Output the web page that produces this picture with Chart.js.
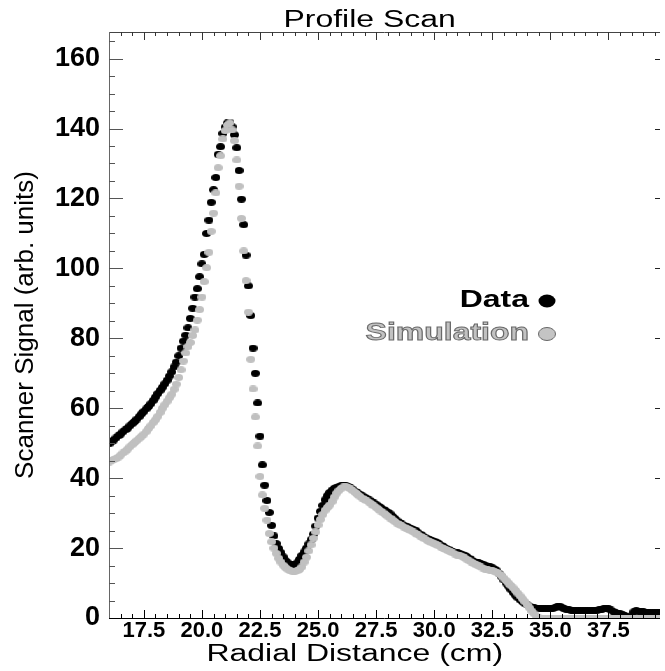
<!DOCTYPE html>
<html>
<head>
    <meta charset="utf-8">
    <title>Profile Scan</title>
    <script src="https://cdn.jsdelivr.net/npm/chart.js"></script>
    <style>
        html, body { margin: 0; padding: 0; background: #fff; }
    </style>
</head>
<body>
    <canvas id="scanChart" width="665" height="671"></canvas>

    <script>
        // radial positions of the scan (cm)
        const radialCm = [
            16.0, 16.1, 16.2, 16.3, 16.4, 16.5, 16.6, 16.7, 16.8, 16.9,
            17.0, 17.1, 17.2, 17.3, 17.4, 17.5, 17.6, 17.7, 17.8, 17.9,
            18.0, 18.1, 18.2, 18.3, 18.4, 18.5, 18.6, 18.7, 18.8, 18.9,
            19.0, 19.1, 19.2, 19.3, 19.4, 19.5, 19.6, 19.7, 19.8, 19.9,
            20.0, 20.1, 20.2, 20.3, 20.4, 20.5, 20.6, 20.7, 20.8, 20.9,
            21.0, 21.1, 21.2, 21.3, 21.4, 21.5, 21.6, 21.7, 21.8, 21.9,
            22.0, 22.1, 22.2, 22.3, 22.4, 22.5, 22.6, 22.7, 22.8, 22.9,
            23.0, 23.1, 23.2, 23.3, 23.4, 23.5, 23.6, 23.7, 23.8, 23.9,
            24.0, 24.1, 24.2, 24.3, 24.4, 24.5, 24.6, 24.7, 24.8, 24.9,
            25.0, 25.1, 25.2, 25.3, 25.4, 25.5, 25.6, 25.7, 25.8, 25.9,
            26.0, 26.1, 26.2, 26.3, 26.4, 26.5, 26.6, 26.7, 26.8, 26.9,
            27.0, 27.1, 27.2, 27.3, 27.4, 27.5, 27.6, 27.7, 27.8, 27.9,
            28.0, 28.1, 28.2, 28.3, 28.4, 28.5, 28.6, 28.7, 28.8, 28.9,
            29.0, 29.1, 29.2, 29.3, 29.4, 29.5, 29.6, 29.7, 29.8, 29.9,
            30.0, 30.1, 30.2, 30.3, 30.4, 30.5, 30.6, 30.7, 30.8, 30.9,
            31.0, 31.1, 31.2, 31.3, 31.4, 31.5, 31.6, 31.7, 31.8, 31.9,
            32.0, 32.1, 32.2, 32.3, 32.4, 32.5, 32.6, 32.7, 32.8, 32.9,
            33.0, 33.1, 33.2, 33.3, 33.4, 33.5, 33.6, 33.7, 33.8, 33.9,
            34.0, 34.1, 34.2, 34.3, 34.4, 34.5, 34.6, 34.7, 34.8, 34.9,
            35.0, 35.1, 35.2, 35.3, 35.4, 35.5, 35.6, 35.7, 35.8, 35.9,
            36.0, 36.1, 36.2, 36.3, 36.4, 36.5, 36.6, 36.7, 36.8, 36.9,
            37.0, 37.1, 37.2, 37.3, 37.4, 37.5, 37.6, 37.7, 37.8, 37.9,
            38.0, 38.1, 38.2, 38.3, 38.4, 38.5, 38.6, 38.7, 38.8, 38.9,
            39.0, 39.1, 39.2, 39.3, 39.4, 39.5, 39.6, 39.7
        ];

        // measured scanner signal (black)
        const dataSignal = [
            49.8, 50.4, 50.9, 51.5, 52.1, 52.6, 53.3, 53.8, 54.3, 55.0,
            55.6, 56.2, 56.9, 57.6, 58.4, 59.1, 59.8, 60.5, 61.3, 62.2,
            63.2, 64.2, 65.1, 66.0, 67.0, 68.0, 69.2, 70.4, 71.8, 73.2,
            75.0, 77.2, 79.2, 80.9, 83.0, 85.7, 88.6, 91.8, 94.2, 97.6,
            101.3, 104.0, 110.0, 113.8, 118.9, 122.5, 126.0, 132.6, 134.8, 138.6,
            140.4, 141.6, 141.8, 140.5, 138.2, 134.5, 128.0, 119.8, 112.5, 103.8,
            95.0, 86.5, 77.2, 70.0, 61.5, 52.0, 43.8, 38.0, 33.6, 30.2,
            26.5, 23.5, 21.3, 19.9, 18.7, 17.5, 16.4, 15.8, 15.4, 15.2,
            15.2, 15.8, 16.8, 17.9, 18.9, 20.0, 21.2, 22.4, 24.0, 26.3,
            28.6, 30.5, 32.2, 33.8, 35.0, 35.9, 36.6, 37.1, 37.4, 37.6,
            37.8, 37.9, 37.8, 37.6, 37.2, 36.8, 36.2, 35.8, 35.4, 35.0,
            34.6, 34.2, 33.8, 33.3, 32.9, 32.5, 32.0, 31.6, 31.1, 30.7,
            30.3, 29.8, 29.1, 28.5, 27.8, 27.3, 26.9, 26.5, 26.3, 25.9,
            25.6, 25.2, 25.1, 24.4, 24.0, 23.5, 23.1, 22.7, 22.4, 22.2,
            22.0, 21.7, 21.3, 20.8, 20.4, 20.0, 19.7, 19.3, 19.0, 18.8,
            18.6, 18.4, 18.2, 18.0, 17.6, 17.1, 16.6, 16.2, 16.0, 15.8,
            15.6, 15.4, 15.1, 14.8, 14.6, 14.4, 14.0, 13.5, 12.7, 11.8,
            10.9, 10.0, 9.1, 8.2, 7.3, 6.5, 5.8, 5.2, 4.7, 4.2,
            3.8, 3.4, 3.1, 2.9, 2.8, 2.7, 2.8, 2.7, 2.6, 2.7,
            2.8, 2.7, 2.9, 3.3, 3.4, 3.0, 2.6, 2.4, 2.3, 2.2,
            2.2, 2.1, 2.2, 2.1, 2.1, 2.2, 2.1, 2.2, 2.1, 2.2,
            2.2, 2.3, 2.4, 2.7, 2.8, 2.6, 2.3, 1.9, 1.5, 1.3,
            1.2, 1.0, 0.6, 0.3, 0.2, 0.6, 1.8, 2.1, 2.0, 1.9,
            1.8, 1.7, 1.6, 1.5, 1.5, 1.5, 1.6, 1.5
        ];

        // simulated scanner signal (grey)
        const simSignal = [
            44.6, 45.0, 45.3, 45.6, 46.0, 46.6, 47.2, 47.7, 48.3, 49.0,
            49.6, 50.2, 50.8, 51.4, 52.0, 52.6, 53.3, 54.2, 55.0, 55.9,
            56.7, 57.7, 58.8, 60.0, 61.0, 62.0, 63.0, 64.0, 65.4, 66.9,
            68.8, 71.0, 73.5, 75.8, 77.6, 78.8, 80.8, 82.4, 85.2, 88.2,
            91.8, 96.2, 100.2, 104.6, 110.6, 115.8, 121.6, 128.8, 132.2, 137.0,
            139.4, 141.0, 141.6, 139.6, 136.5, 131.0, 123.5, 114.3, 105.0, 96.5,
            87.5, 74.0, 65.5, 57.5, 49.2, 40.5, 35.2, 31.4, 28.0, 24.2,
            21.8, 20.0, 18.5, 17.1, 16.0, 15.1, 14.4, 13.9, 13.5, 13.3,
            13.3, 13.5, 13.9, 14.6, 16.0, 17.4, 19.2, 20.9, 22.8, 24.6,
            26.6, 28.2, 29.6, 30.8, 31.6, 32.3, 33.3, 34.6, 35.7, 36.5,
            37.1, 37.5, 37.6, 37.3, 36.9, 36.4, 35.9, 35.3, 34.8, 34.3,
            33.9, 33.5, 33.1, 32.6, 32.1, 31.6, 31.1, 30.6, 30.1, 29.6,
            29.1, 28.6, 28.1, 27.6, 27.1, 26.7, 26.4, 26.0, 25.7, 25.4,
            25.0, 24.6, 24.2, 23.8, 23.4, 23.0, 22.6, 22.2, 21.8, 21.5,
            21.2, 20.9, 20.6, 20.2, 19.9, 19.6, 19.2, 18.9, 18.6, 18.3,
            18.0, 17.8, 17.6, 17.2, 16.8, 16.4, 16.0, 15.6, 15.2, 14.9,
            14.6, 14.3, 14.0, 13.8, 13.7, 13.5, 13.3, 13.1, 12.6, 12.1,
            11.4, 10.7, 10.0, 9.3, 8.6, 7.9, 7.1, 6.3, 5.5, 4.7,
            3.8, 2.9, 2.0, 1.2, 0.5, 0.1, 0.0, 0.0, 0.0, 0.0,
            0.0, 0.0, 0.0, 0.0, 0.0, 0.0, 0.0, 0.0, 0.0, 0.0,
            0.0, 0.0, 0.0, 0.0, 0.0, 0.0, 0.0, 0.0, 0.0, 0.0,
            0.0, 0.0, 0.0, 0.0, 0.0, 0.0, 0.0, 0.0, 0.0, 0.0,
            0.0, 0.0, 0.0, 0.0, 0.0, 0.0, 0.0, 0.0, 0.0, 0.0,
            0.0, 0.0, 0.0, 0.0, 0.0, 0.0, 0.0, 0.0
        ];

        // axis ranges and tick steps
        const xRange = [16, 39.72];
        const yRange = [0, 167.6];
        const xMajorStep = 2.5, xMinorStep = 0.5;
        const yMajorStep = 20, yMinorStep = 5;

        const FONT = "'Liberation Sans', Arial, sans-serif";
        // the source figure is stretched sideways, so its wide texts are too
        const TEXT_STRETCH = 1.39;

        // slightly wide dots, like the original plot symbols
        function dotMarker(color) {
            const c = document.createElement('canvas');
            c.width = 9;
            c.height = 7;
            const g = c.getContext('2d');
            g.fillStyle = color;
            g.beginPath();
            g.ellipse(4.5, 3.5, 4.5, 3.5, 0, 0, Math.PI * 2);
            g.fill();
            return c;
        }

        function toPoints(values) {
            return values.map((v, i) => ({ x: radialCm[i], y: v }));
        }

        function wideText(ctx, text, x, y, align, fill, outline) {
            ctx.save();
            ctx.translate(x, y);
            ctx.scale(TEXT_STRETCH, 1);
            ctx.textAlign = align;
            ctx.fillStyle = fill;
            ctx.fillText(text, 0, 0);
            if (outline) {
                ctx.strokeStyle = outline;
                ctx.lineWidth = 0.9;
                ctx.strokeText(text, 0, 0);
            }
            ctx.restore();
        }

        // frame, inward tick marks, titles and the in-plot legend
        const plotDecor = {
            id: 'plotDecor',
            afterDraw(chart) {
                const { ctx, chartArea: a, scales: { x, y } } = chart;
                const w = a.right - a.left;
                ctx.save();
                ctx.lineWidth = 1;

                // frame
                ctx.strokeStyle = '#444';
                ctx.beginPath();
                ctx.moveTo(a.left, a.top + 0.5);
                ctx.lineTo(a.right, a.top + 0.5);
                ctx.stroke();
                ctx.strokeStyle = '#666';
                ctx.beginPath();
                ctx.moveTo(a.left + 0.5, a.top);
                ctx.lineTo(a.left + 0.5, a.bottom);
                ctx.stroke();
                ctx.strokeStyle = '#000';
                ctx.beginPath();
                ctx.moveTo(a.left, a.bottom + 0.5);
                ctx.lineTo(a.right, a.bottom + 0.5);
                ctx.stroke();

                // x ticks, bottom and top
                const nx = Math.floor((x.max - x.min) / xMinorStep + 1e-6);
                for (let i = 1; i <= nx; i++) {
                    const v = x.min + i * xMinorStep;
                    const major = Math.abs(v / xMajorStep - Math.round(v / xMajorStep)) < 1e-6;
                    const px = Math.round(x.getPixelForValue(v)) + 0.5;
                    ctx.strokeStyle = '#000';
                    ctx.beginPath();
                    ctx.moveTo(px, a.bottom);
                    ctx.lineTo(px, a.bottom - (major ? 8 : 4));
                    ctx.stroke();
                    ctx.strokeStyle = '#333';
                    ctx.beginPath();
                    ctx.moveTo(px, a.top);
                    ctx.lineTo(px, a.top + (major ? 8 : 4));
                    ctx.stroke();
                }

                // y ticks, left and right
                const ny = Math.floor((y.max - y.min) / yMinorStep + 1e-6);
                for (let i = 1; i <= ny; i++) {
                    const v = y.min + i * yMinorStep;
                    const major = v % yMajorStep === 0;
                    const py = Math.round(y.getPixelForValue(v)) + 0.5;
                    ctx.strokeStyle = '#555';
                    ctx.beginPath();
                    ctx.moveTo(a.left, py);
                    ctx.lineTo(a.left + (major ? 14 : 6), py);
                    ctx.stroke();
                    if (major) {
                        ctx.strokeStyle = '#222';
                        ctx.beginPath();
                        ctx.moveTo(a.right, py);
                        ctx.lineTo(a.right - 5, py);
                        ctx.stroke();
                    }
                }

                // chart title and x axis title
                ctx.font = '23px ' + FONT;
                ctx.textBaseline = 'alphabetic';
                wideText(ctx, 'Profile Scan', a.left + w * 0.473, 27, 'center', '#000');
                ctx.textBaseline = 'middle';
                wideText(ctx, 'Radial Distance (cm)', a.left + w * 0.446, 655, 'center', '#000');

                // legend inside the plot
                const rows = [
                    { ds: chart.data.datasets[1], text: '#000', outline: null, dot: '#000', ring: null },
                    { ds: chart.data.datasets[0], text: '#c2c2c2', outline: '#6a6a6a', dot: '#c4c4c4', ring: '#666' }
                ];
                const textRight = 529, dotX = 547, rowY = [301, 334];
                ctx.font = 'bold 23px ' + FONT;
                ctx.textBaseline = 'middle';
                rows.forEach((r, i) => {
                    wideText(ctx, r.ds.label, textRight, rowY[i], 'right', r.text, r.outline);
                    ctx.beginPath();
                    ctx.ellipse(dotX, rowY[i], 8.5, 6.5, 0, 0, Math.PI * 2);
                    ctx.fillStyle = r.dot;
                    ctx.fill();
                    if (r.ring) {
                        ctx.strokeStyle = r.ring;
                        ctx.lineWidth = 1;
                        ctx.stroke();
                    }
                });

                ctx.restore();
            }
        };

        const ctx = document.getElementById('scanChart').getContext('2d');

        const chart = new Chart(ctx, {
            type: 'scatter',
            data: {
                datasets: [
                    {
                        label: 'Simulation',
                        data: toPoints(simSignal),
                        pointStyle: dotMarker('#c0c0c0'),
                        pointRadius: 4,
                        order: 1,
                        clip: 0
                    },
                    {
                        label: 'Data',
                        data: toPoints(dataSignal),
                        pointStyle: dotMarker('#000'),
                        pointRadius: 4,
                        order: 2,
                        clip: 0
                    }
                ]
            },
            options: {
                responsive: false,
                animation: false,
                events: [],
                layout: { padding: { top: 32, left: 0, right: 0, bottom: 0 } },
                plugins: {
                    legend: { display: false },
                    tooltip: { enabled: false },
                    title: { display: false }
                },
                scales: {
                    x: {
                        type: 'linear',
                        min: xRange[0],
                        max: xRange[1],
                        grid: { display: false, drawTicks: false, tickLength: 0 },
                        border: { display: false },
                        ticks: {
                            stepSize: xMajorStep,
                            includeBounds: false,
                            autoSkip: false,
                            maxRotation: 0,
                            padding: 0,
                            color: '#000',
                            font: { family: FONT, size: 22, weight: 'bold' },
                            callback: v => Number(v).toFixed(1)
                        },
                        title: { display: false },
                        afterFit: s => { s.height = 53; }
                    },
                    y: {
                        type: 'linear',
                        min: yRange[0],
                        max: yRange[1],
                        grid: { display: false, drawTicks: false, tickLength: 0 },
                        border: { display: false },
                        ticks: {
                            stepSize: yMajorStep,
                            includeBounds: false,
                            padding: 9,
                            color: '#000',
                            font: { family: FONT, size: 27, weight: 'bold' }
                        },
                        title: {
                            display: true,
                            text: 'Scanner Signal (arb. units)',
                            color: '#000',
                            font: { family: FONT, size: 26 },
                            padding: { top: 10, bottom: 0 }
                        },
                        afterFit: s => { s.width = 109; }
                    }
                }
            },
            plugins: [plotDecor]
        });
    </script>
</body>
</html>
